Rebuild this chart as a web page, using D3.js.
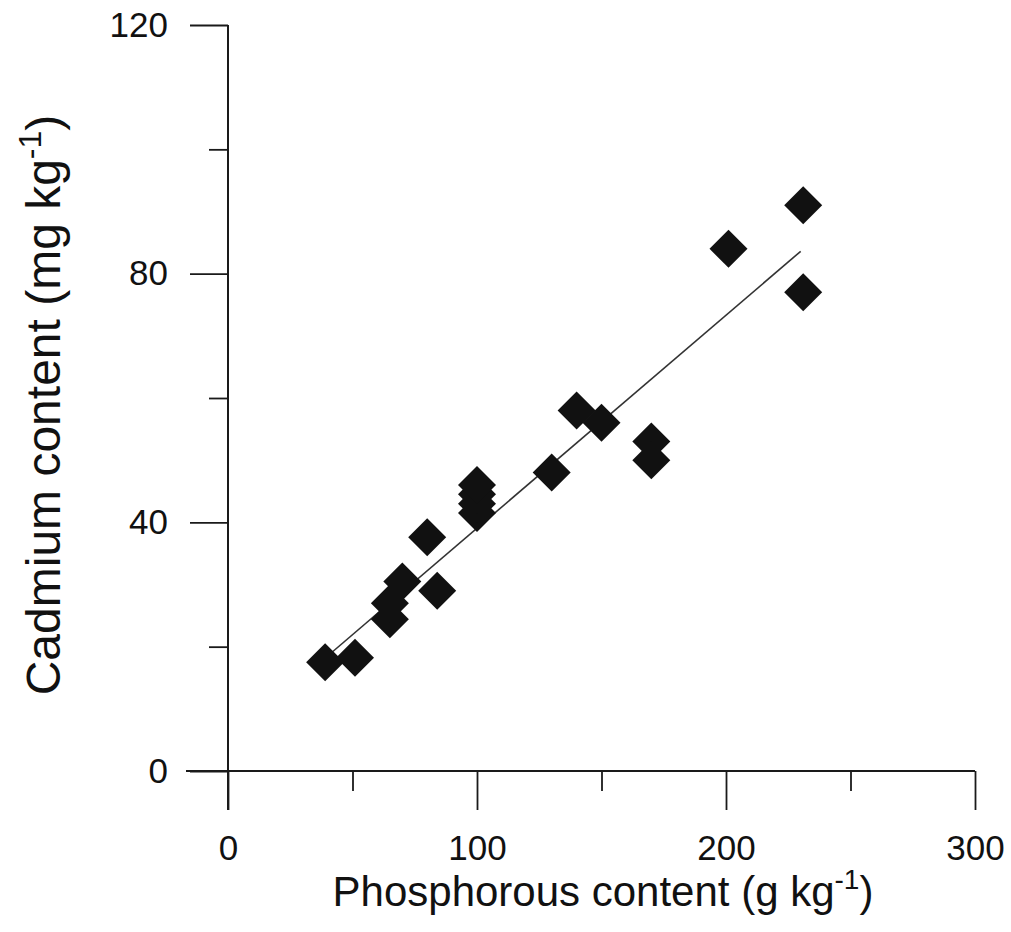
<!DOCTYPE html>
<html>
<head>
<meta charset="utf-8">
<script src="https://cdn.jsdelivr.net/npm/d3@7"></script>
<style>
  html, body { margin: 0; padding: 0; background: #fff; }
  svg { display: block; }
  text { font-family: "Liberation Sans", Arial, sans-serif; fill: #111; }
</style>
</head>
<body>
<svg id="chart" width="1011" height="932"></svg>
<script>
// Data
const phosphorus = [39, 51, 65, 65, 70, 80, 84, 100, 100, 100, 100, 130, 140, 150, 170, 170, 201, 231, 231];
const cadmium    = [17.5, 18.2, 24.4, 27, 30.5, 37.6, 29, 41.5, 43, 44.5, 46, 48, 58, 56, 53, 50, 84, 91, 77];
const fitX = [40, 230];
const fitY = [18.5, 83.6];
const xMajorTicks = [0, 100, 200, 300];
const xMinorTicks = [50, 150, 250];
const yMajorTicks = [0, 40, 80, 120];
const yMinorTicks = [20, 60, 100];
const xTitle = "Phosphorous content (g kg";
const yTitle = "Cadmium content (mg kg";

const svg = d3.select("#chart");
const x = d3.scaleLinear().domain([0, 300]).range([228, 975]);
const y = d3.scaleLinear().domain([0, 120]).range([771, 25]);
const axisColor = "#1a1a1a";

// X axis
const gx = svg.append("g").attr("transform", `translate(0,${y(0)})`);
gx.call(d3.axisBottom(x).tickValues(xMajorTicks).tickSize(39).tickSizeOuter(0).tickPadding(25).tickFormat(d3.format("d")));
gx.select(".domain").remove();
gx.append("line").attr("x1", 186).attr("x2", x(300)).attr("y1", 0).attr("y2", 0)
  .attr("stroke", axisColor).attr("stroke-width", 2);
const gxm = svg.append("g").attr("transform", `translate(0,${y(0)})`);
gxm.call(d3.axisBottom(x).tickValues(xMinorTicks).tickSize(20).tickSizeOuter(0).tickFormat(""));
gxm.select(".domain").remove();

// Y axis
const gy = svg.append("g").attr("transform", `translate(${x(0)},0)`);
gy.call(d3.axisLeft(y).tickValues(yMajorTicks).tickSize(38).tickSizeOuter(0).tickPadding(22).tickFormat(d3.format("d")));
gy.select(".domain").remove();
gy.append("line").attr("x1", 0).attr("x2", 0).attr("y1", y(120)).attr("y2", 810)
  .attr("stroke", axisColor).attr("stroke-width", 2);
const gym = svg.append("g").attr("transform", `translate(${x(0)},0)`);
gym.call(d3.axisLeft(y).tickValues(yMinorTicks).tickSize(19).tickSizeOuter(0).tickFormat(""));
gym.select(".domain").remove();

svg.selectAll(".tick line").attr("stroke", axisColor).attr("stroke-width", 1.8);
svg.selectAll("g").attr("font-size", null).attr("font-family", null);
svg.selectAll(".tick text").style("font-size", "35px").attr("fill", "#111")
  .style("font-family", "'Liberation Sans', Arial, sans-serif");

// Regression line
svg.append("line")
  .attr("x1", x(fitX[0])).attr("y1", y(fitY[0]))
  .attr("x2", x(fitX[1])).attr("y2", y(fitY[1]))
  .attr("stroke", "#333").attr("stroke-width", 1.6);

// Diamonds
const sym = d3.symbol().type(d3.symbolSquare).size(722);
svg.append("g").selectAll("path")
  .data(phosphorus.map((p, i) => ({p, c: cadmium[i]})))
  .join("path")
  .attr("d", sym)
  .attr("transform", d => `translate(${x(d.p)},${y(d.c)}) rotate(45)`)
  .attr("fill", "#111");

// Axis titles
const xt = svg.append("text").attr("x", 603).attr("y", 906)
  .attr("text-anchor", "middle").style("font-size", "42px");
xt.append("tspan").text(xTitle);
xt.append("tspan").style("font-size", "28px").attr("dy", -17).text("-1");
xt.append("tspan").attr("dy", 17).text(")");

const yt = svg.append("text").attr("transform", "translate(60,405) rotate(-90)")
  .attr("text-anchor", "middle").style("font-size", "48px");
yt.append("tspan").text(yTitle);
yt.append("tspan").style("font-size", "32px").attr("dy", -19).text("-1");
yt.append("tspan").attr("dy", 19).text(")");
</script>
</body>
</html>
